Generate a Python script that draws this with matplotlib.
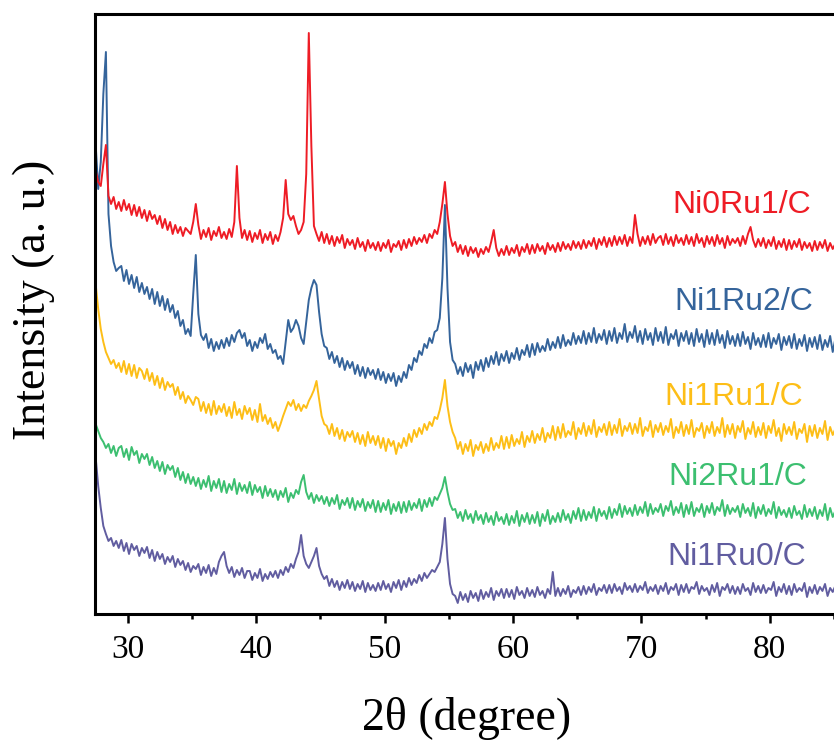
"""
XRD patterns of the NixRuy/C catalysts, stacked with offsets.
"""
import numpy as np
import matplotlib
matplotlib.use('Agg')
import matplotlib.pyplot as plt

# scan grid, 2theta from 27.5 to 85.3 in 0.2 degree steps (10 points per row below)
two_theta = np.linspace(27.5, 85.3, 290)

# intensities (a. u., already offset), one row = 2 degrees
ni0ru1 = [
    444, 432, 428, 450, 469, 418, 410, 417, 405, 412,
    403, 414, 404, 410, 399, 409, 398, 407, 396, 404,
    393, 403, 395, 399, 390, 398, 386, 395, 384, 392,
    380, 389, 381, 387, 378, 386, 383, 380, 392, 410,
    389, 375, 384, 377, 386, 374, 383, 378, 387, 376,
    382, 375, 385, 377, 392, 448, 396, 376, 384, 374,
    383, 372, 381, 375, 384, 371, 380, 374, 382, 370,
    379, 373, 382, 396, 434, 400, 394, 398, 388, 380,
    384, 392, 440, 581, 468, 388, 380, 373, 382, 371,
    380, 370, 378, 368, 377, 371, 379, 366, 375, 369,
    374, 365, 376, 367, 372, 363, 374, 366, 371, 364,
    372, 363, 371, 366, 374, 362, 370, 367, 373, 364,
    374, 366, 375, 368, 377, 370, 376, 372, 379, 371,
    380, 376, 384, 380, 392, 410, 432, 400, 378, 368,
    372, 362, 369, 360, 368, 358, 367, 361, 366, 357,
    365, 360, 367, 362, 372, 384, 366, 358, 365, 359,
    368, 359, 366, 361, 369, 358, 367, 362, 370, 360,
    369, 361, 370, 363, 368, 360, 371, 364, 369, 362,
    371, 363, 372, 365, 370, 364, 373, 366, 372, 365,
    374, 366, 373, 368, 376, 365, 375, 369, 377, 367,
    376, 368, 378, 369, 377, 370, 379, 368, 377, 371,
    399, 380, 368, 377, 370, 378, 369, 380, 371, 376,
    378, 369, 380, 370, 377, 368, 379, 371, 376, 369,
    379, 370, 377, 368, 380, 371, 376, 367, 378, 370,
    377, 368, 379, 370, 376, 366, 378, 369, 375, 371,
    376, 368, 378, 370, 380, 387, 374, 367, 375, 368,
    376, 366, 374, 368, 377, 365, 373, 367, 375, 364,
    374, 365, 373, 367, 375, 364, 372, 366, 371, 363,
    373, 364, 372, 366, 374, 363, 371, 365, 370, 364,
]
ni1ru2 = [
    470, 425, 452, 520, 562, 400, 368, 352, 343, 346,
    348, 333, 344, 330, 339, 326, 337, 322, 331, 320,
    327, 315, 325, 310, 322, 308, 318, 304, 315, 302,
    309, 296, 303, 288, 294, 280, 285, 278, 320, 359,
    300, 279, 274, 280, 266, 275, 263, 272, 265, 274,
    266, 276, 268, 279, 272, 281, 284, 276, 281, 268,
    274, 263, 272, 266, 276, 271, 280, 265, 270, 261,
    264, 255, 258, 250, 272, 294, 282, 286, 294, 288,
    276, 270, 292, 314, 326, 334, 329, 302, 280, 268,
    266, 255, 262, 251, 258, 247, 256, 244, 253, 246,
    252, 240, 249, 238, 247, 236, 246, 239, 244, 235,
    245, 234, 242, 231, 240, 233, 241, 228, 238, 232,
    242, 236, 249, 244, 256, 252, 263, 259, 270, 266,
    276, 271, 282, 284, 296, 336, 409, 326, 272, 254,
    250, 240, 247, 238, 251, 242, 249, 236, 252, 244,
    254, 243, 256, 247, 258, 250, 262, 249, 260, 253,
    263, 251, 261, 255, 266, 254, 264, 259, 269, 257,
    270, 259, 271, 262, 268, 263, 275, 264, 272, 266,
    277, 266, 279, 268, 274, 269, 281, 270, 278, 271,
    283, 270, 281, 272, 286, 271, 280, 274, 284, 270,
    283, 273, 286, 271, 281, 275, 290, 272, 282, 276,
    288, 272, 283, 270, 285, 274, 281, 269, 286, 273,
    282, 271, 287, 269, 280, 275, 284, 268, 281, 273,
    283, 270, 281, 268, 285, 272, 280, 267, 284, 270,
    281, 269, 284, 271, 279, 266, 283, 270, 278, 268,
    280, 268, 282, 270, 277, 265, 281, 269, 276, 267,
    279, 267, 281, 266, 276, 270, 280, 264, 277, 269,
    278, 266, 280, 265, 275, 268, 279, 263, 276, 267,
    277, 265, 279, 264, 274, 267, 278, 262, 275, 266,
]
ni1ru1 = [
    330, 305, 285, 272, 262, 256, 250, 254, 246, 251,
    242, 253, 240, 250, 238, 249, 236, 246, 243, 235,
    245, 233, 241, 229, 238, 226, 236, 224, 232, 227,
    230, 219, 227, 215, 222, 211, 218, 214, 209, 217,
    215, 203, 212, 201, 210, 199, 213, 200, 208, 202,
    210, 198, 207, 196, 212, 199, 205, 195, 208, 200,
    206, 194, 204, 192, 210, 193, 199, 190, 196, 186,
    192, 183, 190, 198, 205, 212, 208, 214, 204, 210,
    203, 209, 206, 213, 218, 224, 233, 215, 198, 190,
    188, 180, 190, 178, 186, 175, 184, 173, 182, 177,
    183, 172, 181, 170, 179, 168, 182, 171, 178, 169,
    178, 166, 176, 163, 175, 168, 173, 160, 171, 166,
    176, 168, 180, 172, 184, 177, 186, 180, 190, 184,
    192, 188, 197, 195, 204, 216, 234, 208, 192, 182,
    176, 165, 172, 160, 170, 163, 174, 158, 169, 164,
    172, 161, 170, 163, 176, 164, 171, 166, 178, 165,
    177, 166, 179, 168, 175, 170, 182, 167, 178, 172,
    183, 171, 180, 174, 186, 172, 181, 176, 188, 174,
    187, 176, 190, 177, 183, 179, 192, 175, 186, 180,
    191, 178, 188, 180, 194, 177, 187, 182, 190, 179,
    192, 179, 189, 181, 195, 178, 188, 183, 191, 180,
    190, 181, 196, 178, 187, 183, 193, 177, 189, 182,
    191, 179, 188, 182, 195, 176, 187, 181, 192, 178,
    189, 180, 194, 177, 186, 183, 191, 176, 188, 181,
    192, 178, 187, 181, 196, 177, 189, 180, 190, 176,
    188, 182, 193, 175, 186, 180, 192, 177, 187, 179,
    191, 176, 188, 181, 194, 178, 186, 173, 190, 180,
    187, 179, 192, 175, 185, 181, 190, 172, 188, 178,
    189, 176, 186, 180, 193, 174, 187, 179, 185, 177,
]
ni2ru1 = [
    190, 183, 176, 172, 166, 170, 161, 168, 158, 166,
    168, 157, 165, 154, 167, 159, 163, 151, 160, 155,
    160, 149, 157, 146, 153, 143, 152, 140, 149, 144,
    148, 137, 146, 134, 142, 131, 140, 130, 137, 128,
    136, 125, 134, 127, 138, 123, 133, 126, 135, 122,
    133, 121, 130, 124, 135, 120, 131, 123, 129, 121,
    132, 119, 129, 122, 127, 116, 128, 118, 125, 117,
    124, 114, 123, 117, 126, 112, 121, 116, 124, 120,
    132, 139, 122, 115, 121, 111, 119, 113, 118, 110,
    117, 108, 116, 110, 119, 105, 114, 109, 116, 106,
    116, 104, 113, 107, 115, 103, 112, 106, 114, 102,
    113, 102, 111, 104, 114, 100, 110, 103, 112, 101,
    112, 102, 113, 104, 111, 106, 115, 103, 114, 107,
    116, 108, 117, 114, 120, 126, 137, 122, 110, 104,
    105, 96, 102, 93, 104, 95, 100, 91, 103, 94,
    99, 90, 101, 92, 98, 89, 102, 93, 97, 90,
    100, 89, 98, 91, 103, 88, 99, 92, 101, 90,
    99, 91, 102, 88, 100, 93, 104, 90, 98, 92,
    101, 92, 104, 94, 100, 91, 103, 95, 106, 93,
    104, 94, 102, 96, 107, 93, 105, 98, 103, 95,
    107, 96, 105, 99, 110, 97, 108, 100, 106, 98,
    109, 99, 107, 101, 112, 98, 110, 100, 106, 102,
    110, 98, 108, 103, 113, 99, 107, 101, 111, 97,
    109, 100, 112, 98, 106, 102, 110, 97, 108, 101,
    111, 99, 107, 103, 114, 98, 109, 100, 106, 102,
    108, 97, 110, 101, 106, 98, 111, 96, 107, 100,
    109, 98, 105, 100, 112, 96, 107, 99, 104, 97,
    106, 96, 108, 99, 103, 95, 109, 97, 105, 98,
    107, 95, 104, 98, 110, 94, 106, 97, 103, 96,
]
ni1ru0 = [
    157, 128, 106, 88, 80, 73, 76, 68, 73, 66,
    74, 63, 71, 60, 70, 64, 68, 58, 66, 61,
    67, 56, 64, 53, 62, 55, 60, 50, 57, 52,
    58, 47, 55, 49, 53, 44, 51, 42, 48, 45,
    50, 39, 47, 41, 49, 38, 46, 40, 52, 58,
    62, 48, 41, 47, 37, 44, 39, 46, 36, 43,
    43, 34, 41, 36, 45, 33, 40, 35, 42, 37,
    43, 36, 44, 39, 47, 42, 50, 46, 55, 62,
    79, 58, 50, 46, 52, 58, 66, 48, 40, 35,
    38, 28, 35, 27, 33, 24, 32, 26, 34, 25,
    32, 23, 30, 25, 33, 22, 31, 24, 29, 23,
    31, 24, 33, 25, 30, 22, 32, 26, 34, 24,
    33, 27, 36, 29, 35, 31, 39, 33, 41, 36,
    40, 44, 42, 47, 52, 70, 96, 55, 30, 20,
    18, 11, 22, 14, 20, 12, 23, 16, 21, 13,
    24, 15, 22, 17, 26, 14, 23, 18, 25, 16,
    25, 17, 24, 15, 27, 19, 23, 16, 26, 18,
    24, 17, 27, 19, 23, 16, 25, 20, 42, 18,
    26, 18, 25, 20, 28, 17, 24, 21, 27, 19,
    28, 20, 27, 22, 30, 19, 26, 23, 29, 21,
    29, 21, 30, 23, 27, 20, 31, 24, 28, 22,
    30, 22, 28, 24, 32, 21, 27, 23, 29, 20,
    28, 23, 31, 20, 27, 24, 30, 19, 29, 22,
    30, 21, 27, 25, 32, 20, 28, 23, 26, 19,
    29, 22, 31, 18, 27, 24, 30, 21, 28, 20,
    27, 20, 30, 23, 26, 19, 31, 22, 28, 21,
    29, 21, 26, 24, 32, 18, 27, 22, 30, 20,
    28, 19, 30, 22, 26, 23, 31, 17, 27, 21,
    29, 20, 27, 23, 30, 18, 26, 22, 28, 21,
]

samples = ['Ni0Ru1/C', 'Ni1Ru2/C', 'Ni1Ru1/C', 'Ni2Ru1/C', 'Ni1Ru0/C']
patterns = [ni0ru1, ni1ru2, ni1ru1, ni2ru1, ni1ru0]
colors = ['#EE1C25', '#35649B', '#FDBE17', '#3CBF70', '#615DA0']
# where each sample name sits (2theta, intensity)
label_pos = [(77.8, 409), (78.0, 312), (77.2, 217), (77.5, 137), (77.4, 57)]

fig = plt.figure(figsize=(8.34, 7.40), dpi=100)
ax = fig.add_axes([0.1139, 0.1703, 0.8861, 0.8108])

# draw bottom pattern first so the upper ones sit on top
for name, y, c, (tx, ty) in reversed(list(zip(samples, patterns, colors, label_pos))):
    ax.plot(two_theta, y, color=c, lw=1.4)
    ax.text(tx, ty, name, color=c, fontsize=23, family='Liberation Sans',
            ha='center', va='center')

ax.set_xlim(27.45, 84.65)
ax.set_ylim(0, 600)
ax.set_xticks([30, 40, 50, 60, 70, 80])
ax.set_xticks([35, 45, 55, 65, 75, 85], minor=True)
ax.set_yticks([])

for side in ['left', 'bottom', 'top']:
    ax.spines[side].set_linewidth(2.2)
ax.spines['right'].set_visible(False)

ax.tick_params(axis='x', which='major', direction='out', length=6.5, width=1.8,
               pad=8, labelsize=24)
ax.tick_params(axis='x', which='minor', direction='out', length=3.5, width=1.8)
for lab in ax.get_xticklabels():
    lab.set_family('Liberation Serif')

ax.set_xlabel('2θ (degree)', family='Liberation Serif', fontsize=33)
ax.set_ylabel('Intensity (a. u.)', family='Liberation Serif', fontsize=33)
ax.xaxis.set_label_coords(0.503, -0.138)
ax.yaxis.set_label_coords(-0.054, 0.523)

fig.savefig('out.png', dpi=100)
